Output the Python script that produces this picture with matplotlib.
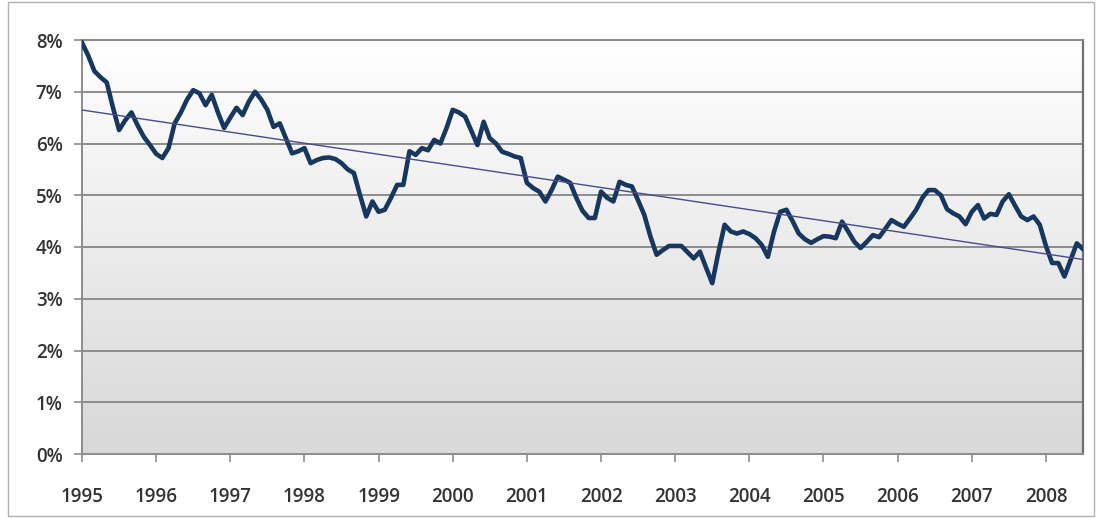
import numpy as np
import matplotlib
matplotlib.use("Agg")
import matplotlib.pyplot as plt
from matplotlib.patches import Rectangle

# monthly yield, Jan 1995 .. Jul 2008 (percent)
rates = [
    7.95, 7.70, 7.40, 7.28, 7.18, 6.70, 6.26, 6.45, 6.60, 6.35, 6.13, 5.97,
    5.80, 5.72, 5.91, 6.39, 6.60, 6.85, 7.03, 6.97, 6.74, 6.94, 6.60, 6.30,
    6.50, 6.69, 6.55, 6.81, 7.00, 6.85, 6.65, 6.32, 6.39, 6.10, 5.81, 5.85,
    5.91, 5.62, 5.68, 5.72, 5.73, 5.70, 5.62, 5.50, 5.43, 5.00, 4.59, 4.88,
    4.68, 4.72, 4.95, 5.20, 5.20, 5.85, 5.78, 5.91, 5.87, 6.07, 6.00, 6.30,
    6.65, 6.60, 6.52, 6.25, 5.97, 6.42, 6.10, 6.00, 5.84, 5.80, 5.75, 5.72,
    5.24, 5.14, 5.07, 4.88, 5.10, 5.36, 5.30, 5.24, 4.95, 4.70, 4.56, 4.56,
    5.07, 4.95, 4.88, 5.26, 5.20, 5.17, 4.90, 4.62, 4.20, 3.85, 3.94, 4.02,
    4.02, 4.02, 3.90, 3.78, 3.91, 3.60, 3.30, 3.90, 4.43, 4.30, 4.26, 4.30,
    4.25, 4.17, 4.04, 3.81, 4.30, 4.68, 4.72, 4.50, 4.26, 4.15, 4.08, 4.15,
    4.21, 4.20, 4.17, 4.49, 4.30, 4.10, 3.98, 4.10, 4.23, 4.19, 4.35, 4.52,
    4.45, 4.39, 4.55, 4.72, 4.95, 5.10, 5.10, 5.00, 4.73, 4.65, 4.59, 4.44,
    4.68, 4.81, 4.55, 4.64, 4.62, 4.88, 5.02, 4.80, 4.59, 4.52, 4.59, 4.43,
    4.02, 3.69, 3.69, 3.43, 3.75, 4.07, 3.96,
]
years = list(range(1995, 2009))
y_ticks = [0, 1, 2, 3, 4, 5, 6, 7, 8]

months = np.arange(len(rates))
vals = np.array(rates)

# linear trendline like Excel
slope, icpt = np.polyfit(months, vals, 1)
trend = slope * months + icpt

plt.rcParams["font.family"] = ["Open Sans", "DejaVu Sans"]

fig = plt.figure(figsize=(10.96, 5.18), dpi=100)
ax = fig.add_axes([82 / 1096, 64 / 518, 1001 / 1096, 414 / 518])

# outer chart frame
fig.patches.append(Rectangle((8 / 1096, 2 / 518), 1086 / 1096, 514 / 518,
                             transform=fig.transFigure, fill=False,
                             edgecolor="#b0b0b0", linewidth=1.0))

x_max = len(rates) - 1
ax.set_xlim(0, x_max)
ax.set_ylim(0, 8)

# gradient plot-area fill
grad = np.linspace(1, 0, 256).reshape(-1, 1)
ax.imshow(grad, extent=[0, x_max, 0, 8], aspect="auto", zorder=0,
          cmap=matplotlib.colors.LinearSegmentedColormap.from_list(
              "g", ["#d8d8d8", "#ffffff"]), vmin=0, vmax=1)

for yv in y_ticks[1:]:
    ax.axhline(yv, color="#8c8c8c", linewidth=1.4, zorder=1)

ax.plot(months, vals, color="#17375e", linewidth=3.3, zorder=3,
        solid_joinstyle="round")
ax.plot(months, trend, color="#4a4a8c", linewidth=1.0, zorder=4)

ax.set_yticks(y_ticks)
ax.set_yticklabels([f"{v}%" for v in y_ticks], fontweight="semibold")
ax.set_xticks([12 * i for i in range(len(years))])
ax.set_xticklabels([str(y) for y in years], fontweight="semibold")

ax.tick_params(axis="y", direction="out", length=6, width=1.2,
               color="#8c8c8c", labelsize=13.5, labelcolor="#333333", pad=8)
ax.tick_params(axis="x", direction="out", length=6, width=1.2,
               color="#8c8c8c", labelsize=13.5, labelcolor="#333333", pad=18)

for side in ["left", "bottom", "top"]:
    ax.spines[side].set_color("#8c8c8c")
    ax.spines[side].set_linewidth(1.4)
ax.spines["right"].set_color("#707070")
ax.spines["right"].set_linewidth(1.6)

fig.savefig("out.png", dpi=100)
